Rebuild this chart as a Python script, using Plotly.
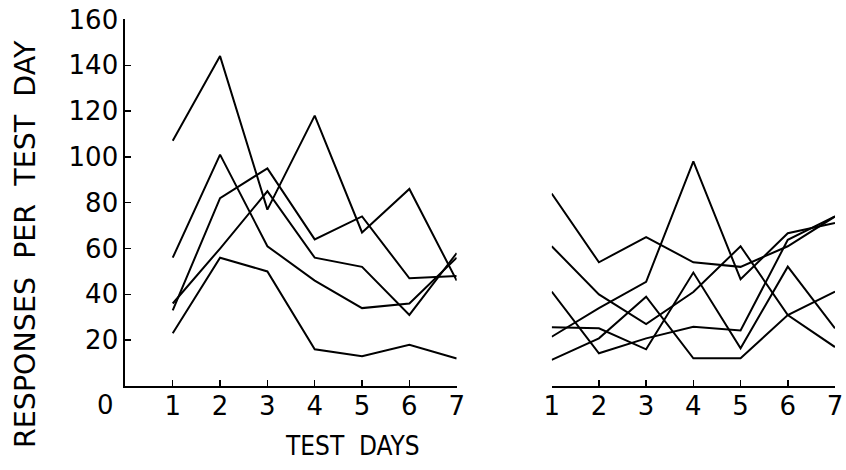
import plotly.graph_objects as go

# ---------------- data ----------------
days = [1, 2, 3, 4, 5, 6, 7]

# left panel (five animals)
left_a = [107, 144, 77, 118, 67, 86, 46]
left_b = [56, 101, 61, 46, 34, 36, 56]
left_c = [33, 82, 95, 64, 74, 47, 48]
left_d = [36, 60, 85, 56, 52, 31, 58]
left_e = [23, 56, 50, 16, 13, 18, 12]

# right panel (six animals)
right_a = [84, 54, 65, 54, 52, 61, 74]
right_b = [61, 40, 27, 41, 61, 31, 17]
right_c = [21.5, 34, 45.5, 98, 46.6, 66.7, 71.2]
right_d = [11.4, 20.8, 39, 12.1, 12.1, 31, 41.2]
right_e = [41.2, 14.3, 20.8, 25.9, 24.2, 63.8, 74]
right_f = [25.6, 25.2, 16, 49.5, 16.5, 52.1, 25.2]

y_ticks = [20, 40, 60, 80, 100, 120, 140, 160]
y_title = "RESPONSES\u00a0\u00a0PER\u00a0\u00a0TEST\u00a0\u00a0DAY"
x_title = "TEST\u00a0\u00a0DAYS"

FONT = "DejaVu Sans"
W, H = 846, 470

fig = go.Figure()
line_style = dict(color="black", width=2)

for ys in [left_a, left_b, left_c, left_d, left_e]:
    fig.add_trace(go.Scatter(x=days, y=ys, mode="lines", line=line_style,
                             xaxis="x", yaxis="y", showlegend=False, hoverinfo="skip",
                             cliponaxis=False))
for ys in [right_a, right_b, right_c, right_d, right_e, right_f]:
    fig.add_trace(go.Scatter(x=days, y=ys, mode="lines", line=line_style,
                             xaxis="x2", yaxis="y", showlegend=False, hoverinfo="skip",
                             cliponaxis=False))

def px_x(p):
    return p / W

def px_y(p):
    return 1 - p / H

axis_common = dict(
    ticks="inside", ticklen=6, tickwidth=1.5, tickcolor="black",
    showline=True, linecolor="black", linewidth=2,
    showgrid=False, zeroline=False, automargin=False,
    tickfont=dict(size=26, family=FONT, color="black"),
)

fig.update_layout(
    width=W, height=H,
    margin=dict(l=0, r=0, t=0, b=0, autoexpand=False),
    paper_bgcolor="white", plot_bgcolor="white",
    font=dict(family=FONT, color="black"),
    xaxis=dict(
        domain=[px_x(125.4), px_x(456.7)], range=[0, 7],
        tickvals=days, ticktext=[str(d) for d in days],
        anchor="y", ticklabelstandoff=-4, **axis_common,
    ),
    xaxis2=dict(
        domain=[px_x(551.7), px_x(835)], range=[1, 7],
        tickvals=days, ticktext=[str(d) for d in days],
        anchor="y", ticklabelstandoff=-4, **axis_common,
    ),
    yaxis=dict(
        domain=[px_y(386), px_y(19.2)], range=[0, 160.1],
        tickvals=y_ticks, ticktext=[str(v) for v in y_ticks],
        anchor="x", **axis_common,
    ),
    annotations=[
        dict(text="0", xref="paper", yref="paper", x=px_x(105), y=px_y(405),
             showarrow=False, font=dict(size=26, family=FONT, color="black"),
             xanchor="center", yanchor="middle"),
        dict(text=y_title, xref="paper", yref="paper", x=px_x(25), y=px_y(244),
             showarrow=False, textangle=-90,
             font=dict(size=28.5, family=FONT, color="black"),
             xanchor="center", yanchor="middle"),
        dict(text=x_title, xref="paper", yref="paper", x=px_x(352), y=px_y(446),
             showarrow=False,
             font=dict(size=26, family="DejaVu Sans Condensed, Liberation Sans Narrow, " + FONT, color="black"),
             xanchor="center", yanchor="middle"),
    ],
)

fig.write_html(
    "out.html",
    config={"displayModeBar": False, "staticPlot": True},
    post_script="document.body.style.margin='0';document.body.style.overflow='hidden';",
)
